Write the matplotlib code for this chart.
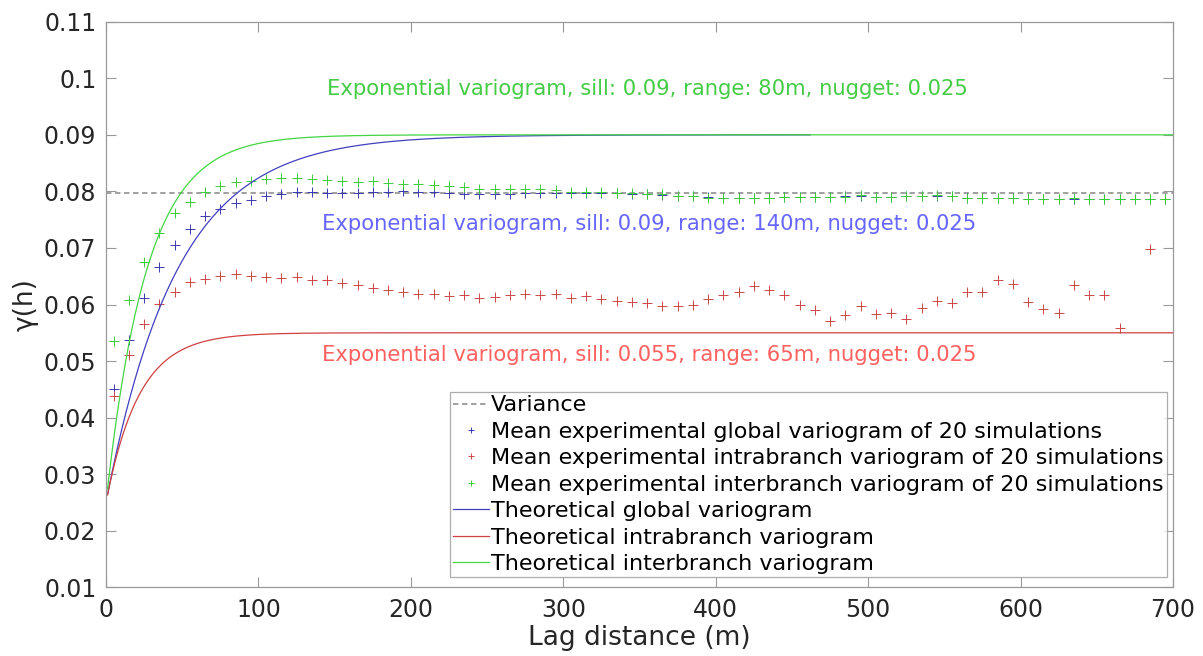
import numpy as np
import matplotlib
matplotlib.use("Agg")
import matplotlib.pyplot as plt

## experimental variograms (means of 20 simulations), lag centres every 10 m
lags = np.arange(5, 700, 10)

gamma_global = [0.0450, 0.0537, 0.0612, 0.0666, 0.0706, 0.0734, 0.0756, 0.0769, 0.0779, 0.0785,
                0.0791, 0.0796, 0.0799, 0.0799, 0.0798, 0.0798, 0.0798, 0.0799, 0.0799, 0.0800,
                0.0799, 0.0799, 0.0797, 0.0796, 0.0796, 0.0796, 0.0796, 0.0797, 0.0798, 0.0797,
                0.0798, 0.0798, 0.0798, 0.0797, 0.0796, 0.0795, 0.0794, 0.0792, 0.0791, 0.0790,
                0.0789, 0.0789, 0.0789, 0.0789, 0.0790, 0.0790, 0.0790, 0.0790, 0.0791, 0.0792,
                0.0790, 0.0790, 0.0791, 0.0791, 0.0792, 0.0791, 0.0788, 0.0788, 0.0788, 0.0788,
                0.0787, 0.0787, 0.0787, 0.0787, 0.0787, 0.0787, 0.0786, 0.0786, 0.0786, 0.0786]

gamma_intra = [0.0439, 0.0510, 0.0565, 0.0601, 0.0623, 0.0639, 0.0645, 0.0651, 0.0654, 0.0651,
               0.0649, 0.0646, 0.0649, 0.0644, 0.0643, 0.0638, 0.0635, 0.0629, 0.0625, 0.0623,
               0.0618, 0.0619, 0.0615, 0.0616, 0.0612, 0.0614, 0.0616, 0.0619, 0.0616, 0.0619,
               0.0612, 0.0615, 0.0609, 0.0607, 0.0604, 0.0602, 0.0597, 0.0597, 0.0599, 0.0609,
               0.0616, 0.0623, 0.0632, 0.0625, 0.0616, 0.0600, 0.0590, 0.0570, 0.0581, 0.0598,
               0.0584, 0.0585, 0.0575, 0.0593, 0.0606, 0.0603, 0.0622, 0.0622, 0.0644, 0.0637,
               0.0604, 0.0592, 0.0585, 0.0634, 0.0616, 0.0616, 0.0559, np.nan, 0.0698, np.nan]

gamma_inter = [0.0535, 0.0608, 0.0675, 0.0726, 0.0761, 0.0782, 0.0799, 0.0809, 0.0816, 0.0819,
               0.0822, 0.0823, 0.0823, 0.0822, 0.0820, 0.0818, 0.0816, 0.0818, 0.0815, 0.0813,
               0.0813, 0.0812, 0.0809, 0.0808, 0.0805, 0.0804, 0.0804, 0.0804, 0.0805, 0.0803,
               0.0799, 0.0799, 0.0799, 0.0798, 0.0798, 0.0796, 0.0795, 0.0792, 0.0791, 0.0789,
               0.0789, 0.0788, 0.0789, 0.0789, 0.0790, 0.0790, 0.0790, 0.0790, 0.0790, 0.0793,
               0.0790, 0.0790, 0.0792, 0.0792, 0.0793, 0.0792, 0.0788, 0.0788, 0.0788, 0.0788,
               0.0787, 0.0787, 0.0787, 0.0788, 0.0787, 0.0787, 0.0786, 0.0786, 0.0786, 0.0786]

variance = 0.0797

## fitted exponential models: (sill, range, nugget, max lag drawn)
model_global = (0.09, 140, 0.025, 462)
model_intra = (0.055, 65, 0.025, 700)
model_inter = (0.09, 80, 0.025, 700)


def expo_model(sill, rng, nugget, hmax):
    h = np.arange(1, hmax + 1)
    return h, nugget + (sill - nugget) * (1 - np.exp(-3 * h / rng))


c_blue = '#3a3ab0'
c_red = '#cc4848'
c_green = '#3ccc3c'

fig = plt.figure(figsize=(12.03, 6.56), dpi=100)
ax = fig.add_axes([0.0881, 0.1047, 0.8870, 0.8622])

ax.axhline(variance, color='#999999', linestyle='--', linewidth=1.3, dashes=(3, 2), label='Variance')
ax.plot(lags, gamma_global, linestyle='', marker='+', markersize=7, mew=0.7, color=c_blue,
        label='Mean experimental global variogram of 20 simulations')
ax.plot(lags, gamma_intra, linestyle='', marker='+', markersize=7, mew=0.7, color=c_red,
        label='Mean experimental intrabranch variogram of 20 simulations')
ax.plot(lags, gamma_inter, linestyle='', marker='+', markersize=7, mew=0.7, color=c_green,
        label='Mean experimental interbranch variogram of 20 simulations')

h, g = expo_model(*model_global)
ax.plot(h, g, color='#4040c0', linewidth=0.9, label='Theoretical global variogram')
h, g = expo_model(*model_intra)
ax.plot(h, g, color='#d04040', linewidth=0.9, label='Theoretical intrabranch variogram')
h, g = expo_model(*model_inter)
ax.plot(h, g, color='#44d444', linewidth=0.9, label='Theoretical interbranch variogram')

ax.text(145, 0.0981, 'Exponential variogram, sill: 0.09, range: 80m, nugget: 0.025',
        color='#44cc44', fontsize=15.2, va='center')
ax.text(142, 0.0742, 'Exponential variogram, sill: 0.09, range: 140m, nugget: 0.025',
        color='#6666ff', fontsize=15.2, va='center')
ax.text(142, 0.0511, 'Exponential variogram, sill: 0.055, range: 65m, nugget: 0.025',
        color='#ff6060', fontsize=15.2, va='center')

ax.set_xlim(0, 700)
ax.set_ylim(0.01, 0.11)
ax.set_xticks(np.arange(0, 701, 100))
ax.set_yticks(np.arange(0.01, 0.111, 0.01))
ax.set_yticklabels(['0.01', '0.02', '0.03', '0.04', '0.05', '0.06', '0.07', '0.08', '0.09', '0.1', '0.11'])
ax.tick_params(direction='in', length=7, width=0.8, color='#999999', labelsize=17,
               labelcolor='#262626', top=True, right=True)
ax.tick_params(axis='x', pad=8)
ax.tick_params(axis='y', pad=7)
for sp in ax.spines.values():
    sp.set_color('#999999')
    sp.set_linewidth(0.9)

ax.set_xlabel('Lag distance (m)', fontsize=19, color='#262626', labelpad=2)
ax.set_ylabel('γ(h)', fontsize=19, color='#262626', labelpad=4)

leg = ax.legend(loc='lower right', bbox_to_anchor=(0.9944, 0.0177), fontsize=16, frameon=True,
                fancybox=False, borderpad=0.15, labelspacing=0.29, handlelength=1.6,
                handletextpad=0.1, borderaxespad=0.0, edgecolor='#999999', markerscale=0.6)
leg.get_frame().set_linewidth(0.9)

fig.savefig('out.png', dpi=100)
